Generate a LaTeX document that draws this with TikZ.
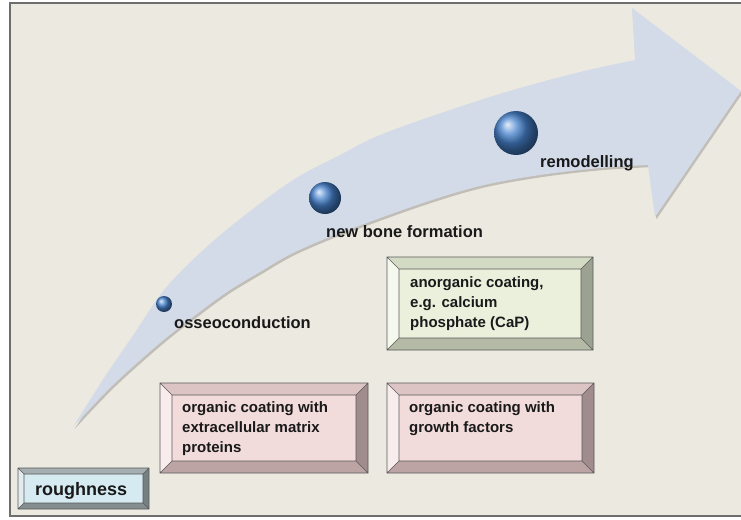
\documentclass[tikz,border=0pt]{standalone}
\usepackage{fontspec}
\setmainfont{Liberation Sans}
\definecolor{bg}{RGB}{236,233,224}
\definecolor{framec}{RGB}{110,110,110}
\definecolor{arrowc}{RGB}{211,218,232}
\definecolor{ballc}{RGB}{70,130,205}
\definecolor{pinkF}{RGB}{242,219,219}
\definecolor{pinkT}{RGB}{220,196,197}
\definecolor{pinkL}{RGB}{249,236,236}
\definecolor{pinkR}{RGB}{160,140,141}
\definecolor{pinkB}{RGB}{188,164,165}
\definecolor{greenF}{RGB}{235,240,221}
\definecolor{greenT}{RGB}{212,219,196}
\definecolor{greenL}{RGB}{245,248,236}
\definecolor{greenR}{RGB}{156,162,146}
\definecolor{greenB}{RGB}{180,186,166}
\definecolor{roughF}{RGB}{214,234,241}
\definecolor{roughT}{RGB}{165,174,176}
\definecolor{roughL}{RGB}{226,235,238}
\definecolor{roughR}{RGB}{118,128,130}
\definecolor{roughB}{RGB}{132,142,144}
\newcommand\bevbox[6]{%
\fill[#6F] (#1,#2) rectangle (#3,#4);
\fill[#6T] (#1,#2) -- (#3,#2) -- ({#3-#5},{#2+#5}) -- ({#1+#5},{#2+#5}) -- cycle;
\fill[#6L] (#1,#2) -- ({#1+#5},{#2+#5}) -- ({#1+#5},{#4-#5}) -- (#1,#4) -- cycle;
\fill[#6R] (#3,#2) -- (#3,#4) -- ({#3-#5},{#4-#5}) -- ({#3-#5},{#2+#5}) -- cycle;
\fill[#6B] (#1,#4) -- (#3,#4) -- ({#3-#5},{#4-#5}) -- ({#1+#5},{#4-#5}) -- cycle;
\draw[bevline] (#1,#2) rectangle (#3,#4) ({#1+#5},{#2+#5}) rectangle ({#3-#5},{#4-#5})
  (#1,#2) -- ({#1+#5},{#2+#5}) (#3,#2) -- ({#3-#5},{#2+#5})
  (#1,#4) -- ({#1+#5},{#4-#5}) (#3,#4) -- ({#3-#5},{#4-#5});
}
\newcommand\arrowshape{plot[smooth, tension=0.55] coordinates {(73,427) (104,378) (134,334) (164,290) (200,253) (240,219) (293,180) (340,155) (380,135) (450,110) (513,90) (580,72) (635,60)}
  -- (632,8) -- (741,91) -- (655,217) -- (648,165)
  -- plot[smooth, tension=0.55] coordinates {(648,165) (600,168) (540,175) (480,186) (420,204) (340,233) (293,253) (260,272) (227,292) (193,317) (160,343) (113,385) (73,427)} -- cycle}
\begin{document}
\begin{tikzpicture}[x=1pt,y=-1pt,
  bevline/.style={draw=black!65, line width=0.6pt},
  label/.style={anchor=base west, inner sep=0pt, font=\fontsize{16.5}{20}\selectfont\bfseries, text=black!90},
  boxtext/.style={anchor=north west, inner sep=0pt, align=left, font=\fontsize{15}{20}\selectfont\bfseries, text=black!90},
  ball/.style={circle, inner sep=0pt, shade, ball color=ballc}]
\useasboundingbox (0,0) rectangle (741,519);
\fill[white] (0,0) rectangle (741,519);
\fill[bg] (10,3) rectangle (741,516);
\draw[framec, line width=1.5pt] (741,3) -- (10,3) -- (10,516) -- (741,516);
% arrow with soft shadow
\fill[black, opacity=0.18] [shift={(1.5,2.2)}] \arrowshape;
\fill[arrowc] \arrowshape;
% balls
\node[ball, minimum size=16pt] (b1) at (164,304) {};
\node[ball, minimum size=32pt] (b2) at (325,198) {};
\node[ball, minimum size=44pt] (b3) at (516,133) {};
% labels
\node[label] (osseo) at (174,328) {osseoconduction};
\node[label] (newbone) at (326,237) {new bone formation};
\node[label] (remod) at (540,167) {remodelling};
% boxes
\bevbox{387}{257}{593}{350}{12}{green}
\bevbox{160}{383}{368}{473}{12}{pink}
\bevbox{387}{383}{594}{473}{12}{pink}
\bevbox{18}{468}{149}{509}{6}{rough}
\node[boxtext] (ca) at (410,276.3) {anorganic coating,\\e.g. calcium\\phosphate (CaP)};
\node[boxtext] (ecm) at (182,401.3) {organic coating with\\extracellular matrix\\proteins};
\node[boxtext] (gf) at (409,401.3) {organic coating with\\growth factors};
\node[anchor=base west, inner sep=0pt, font=\fontsize{18}{20}\selectfont\bfseries, text=black!90] (rough) at (35,495) {roughness};
\end{tikzpicture}
\end{document}
